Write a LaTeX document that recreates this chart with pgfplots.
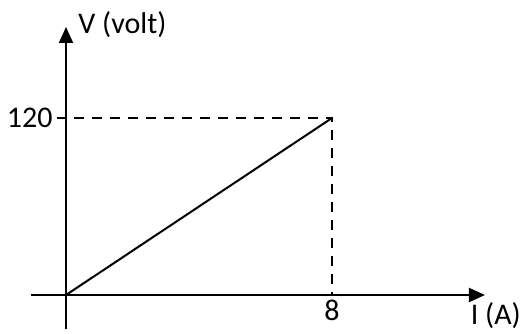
\documentclass[border=0pt]{standalone}
\usepackage{fontspec}
\setmainfont{Carlito}
\usepackage{pgfplots}
\pgfplotsset{compat=1.18}
\usetikzlibrary{arrows.meta}
\begin{document}
\fontsize{15}{18}\selectfont
\begin{tikzpicture}
\clip (-33pt,-19pt) rectangle (227pt,147.5pt);
\path[use as bounding box] (-33pt,-19pt) rectangle (227pt,147.5pt);
\begin{axis}[
  at={(0,0)}, anchor=origin,
  x=16.625pt, y=0.7375pt,
  xmin=-1.053, xmax=12.6, ymin=-23.05, ymax=181.7,
  axis lines=middle,
  axis line style={line width=1pt, -{Triangle[length=8pt,width=7pt]}},
  xtick={8}, ytick={120},
  xticklabels={8}, yticklabels={120},
  tick align=outside,
  major tick length=4.5pt,
  xtick style={draw=none},
  ytick style={line width=1pt, black},
  /pgf/number format/assume math mode=true,
  tick label style={font=\fontsize{15}{18}\selectfont},
  xticklabel style={anchor=north, yshift=7pt},
  yticklabel style={anchor=east, inner sep=2pt},
  xlabel={I (A)}, ylabel={V (volt)},
  label style={font=\fontsize{15}{18}\selectfont},
  xlabel style={at={(rel axis cs:0.968,0.088)}, anchor=north west, inner sep=0pt},
  ylabel style={at={(rel axis cs:0.1036,0.98)}, anchor=base west, inner sep=0pt},
  clip=false,
]
\addplot[black, line width=1pt] coordinates {(0,0) (8,120)};
\addplot[black, line width=1pt, dash pattern=on 5pt off 4pt, dash phase=5pt] coordinates {(0,120) (8,120) (8,0)};
\end{axis}
\end{tikzpicture}
\end{document}
